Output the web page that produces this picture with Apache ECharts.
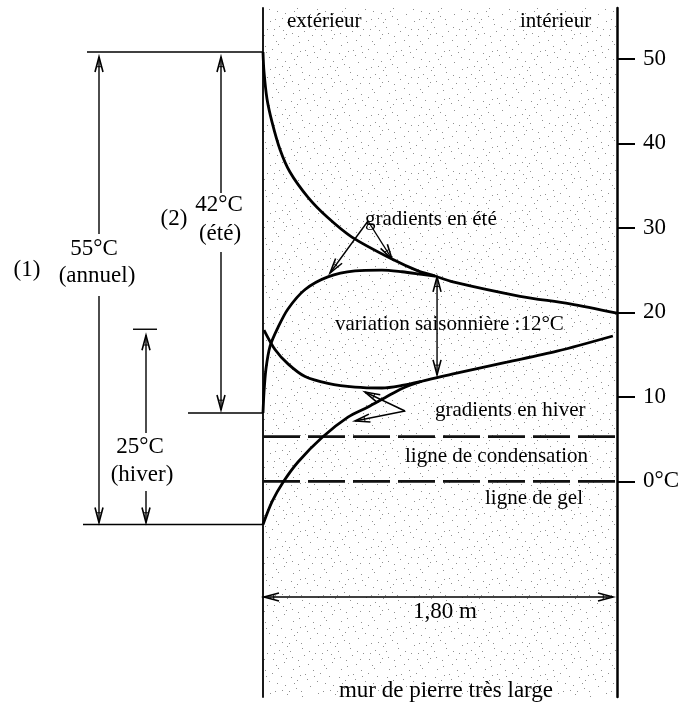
<!DOCTYPE html>
<html><head><meta charset="utf-8">
<script src="https://cdn.jsdelivr.net/npm/echarts@6/dist/echarts.min.js"></script>
<style>html,body{margin:0;padding:0;background:#fff}#c{width:683px;height:704px}</style>
</head><body><div id="c"></div>
<script>
// ---- data (x = depth in wall, m ; y = temperature, °C) ----
const tickValues = [0, 10, 20, 30, 40, 50];
const ete1 = [[0,50.8],[0.005,48.5],[0.02,45.3],[0.046,42.5],[0.086,39.3],[0.137,36.6],[0.229,33.6],[0.325,31.3],[0.452,28.9],[0.656,26.3],[0.788,24.9],[0.874,24.3],[0.966,23.6],[1.307,21.9],[1.561,21.0],[1.8,19.9]];
const ete2 = [[0,8.1],[0.005,10.5],[0.015,13.3],[0.036,16.0],[0.076,18.2],[0.127,20.4],[0.214,22.7],[0.33,24.2],[0.468,24.9],[0.605,25.0],[0.707,24.8],[0.808,24.5],[0.874,24.3]];
const hiver1 = [[0.005,17.9],[0.061,15.6],[0.127,13.9],[0.214,12.4],[0.33,11.6],[0.468,11.15],[0.605,11.05],[0.707,11.35],[0.808,11.85],[0.961,12.7],[1.24,14.1],[1.495,15.4],[1.779,17.2]];
const hiver2 = [[0,-5.1],[0.046,-2.4],[0.102,-0.1],[0.178,2.3],[0.3,5.2],[0.432,7.6],[0.534,8.8],[0.62,9.9],[0.707,11.0],[0.808,11.85]];
const condensationTemp = 5.3;
const gelTemp = 0;
const wallWidth = 1.8;
const annualMax = 50.8, annualMin = -5.1, summerMin = 8.1, winterMax = 18.0;
const seasonalX = 0.885, seasonalTop = 24.2, seasonalBottom = 12.6;

const FONT = '"Liberation Serif", "Times New Roman", serif';
const chart = echarts.init(document.getElementById('c'));

const curve = (d) => ({type:'line', data:d, smooth:0.3, symbol:'none', lineStyle:{color:'#000', width:2.8}, z:5});
const dashLine = (t) => ({type:'line', data:[[0,t],[wallWidth,t]], symbol:'none', lineStyle:{color:'#111', width:2.6, type:[37,8]}, z:4});

chart.setOption({
  animation:false,
  backgroundColor:'#fff',
  grid:{left:263, right:66, top:8, bottom:7},
  xAxis:{type:'value', min:0, max:wallWidth, show:false},
  yAxis:[
    {type:'value', position:'right', min:-25.5, max:56,
     axisLine:{show:true, onZero:false, lineStyle:{color:'#000', width:2.5}},
     axisTick:{show:true, customValues:tickValues, length:18, lineStyle:{color:'#000', width:2}},
     axisLabel:{customValues:tickValues, formatter:(v)=> v===0 ? '0°C' : String(v), margin:26, color:'#000', fontFamily:FONT, fontSize:23},
     splitLine:{show:false}},
    {type:'value', position:'left', min:-25.5, max:56,
     axisLine:{show:true, onZero:false, lineStyle:{color:'#000', width:1.8}},
     axisTick:{show:false}, axisLabel:{show:false}, splitLine:{show:false}}
  ],
  series:[curve(ete1), curve(ete2), curve(hiver1), curve(hiver2), dashLine(condensationTemp), dashLine(gelTemp)]
});

const px = (x, y) => chart.convertToPixel({gridIndex:0}, [x, y]);
const py = (t) => px(0, t)[1];
const X0 = px(0, 0)[0], X1 = px(wallWidth, 0)[0];

// stipple pattern
const pc = document.createElement('canvas'); pc.width = 48; pc.height = 48;
const g = pc.getContext('2d'); g.fillStyle = 'rgba(70,70,70,0.6)';
[[3,5],[17,2],[29,9],[41,4],[8,16],[22,14],[35,19],[45,13],[2,27],[14,24],[27,29],[39,26],[10,36],[20,40],[33,35],[44,38],[5,45],[25,46],[38,44],[16,31],[30,21],[6,11],[43,30],[19,7],[36,41],[12,3],[47,22],[24,35],[1,19],[32,1],
 [9,8],[26,4],[37,11],[13,19],[42,18],[4,33],[21,27],[34,29],[46,34],[11,42]].forEach(p=>g.fillRect(p[0],p[1],1,1));

const els = [];
const TH = 1.4;
function line(x1,y1,x2,y2,w){ els.push({type:'line', z:20, shape:{x1,y1,x2,y2}, style:{stroke:'#000', lineWidth:w||TH}}); }
function head(x1,y1,x2,y2){
  const a = Math.atan2(y2-y1, x2-x1), L = 15, W = 4;
  const bx = x2 - L*Math.cos(a), by = y2 - L*Math.sin(a);
  const nx = -Math.sin(a)*W, ny = Math.cos(a)*W;
  els.push({type:'polyline', z:21, shape:{points:[[bx+nx,by+ny],[x2,y2],[bx-nx,by-ny]]}, style:{stroke:'#000', lineWidth:1.6, fill:null}});
  const mx = x2 - 0.65*L*Math.cos(a), my = y2 - 0.65*L*Math.sin(a);
  els.push({type:'line', z:21, shape:{x1:mx+nx*0.6,y1:my+ny*0.6,x2:mx-nx*0.6,y2:my-ny*0.6}, style:{stroke:'#000', lineWidth:1}});
}
function arrow(x1,y1,x2,y2){ line(x1,y1,x2,y2); head(x1,y1,x2,y2); }
function text(t,x,y,size,align){ els.push({type:'text', z:25, x, y, style:{text:t, fill:'#000', font:size+'px '+FONT, align:align||'left', verticalAlign:'middle'}}); }

const gridTop = px(0, 56)[1], gridBot = px(0, -25.5)[1];
els.push({type:'rect', z:-10, shape:{x:X0, y:gridTop, width:X1-X0, height:gridBot-gridTop}, style:{fill:{image:pc, repeat:'repeat'}}});

// reference horizontals
line(87, py(annualMax), X0, py(annualMax));
line(188, py(summerMin), X0, py(summerMin));
line(83, py(annualMin), X0, py(annualMin));
line(133, py(winterMax), 157, py(winterMax));
// (1) 55°C annuel
arrow(99, 234, 99, py(annualMax)+5);
arrow(99, 296, 99, py(annualMin)-2);
// (2) 42°C été
arrow(221, 193, 221, py(annualMax)+5);
arrow(221, 252, 221, py(summerMin)-3);
// 25°C hiver
arrow(146, 433, 146, py(winterMax)+6);
arrow(146, 491, 146, py(annualMin)-2);
// seasonal variation
const sx = px(seasonalX, 0)[0], sy1 = py(seasonalTop), sy2 = py(seasonalBottom);
line(sx, sy1, sx, sy2); head(sx, sy2, sx, sy1); head(sx, sy1, sx, sy2);
// gradients en été
arrow(368, 221, 330, 273);
arrow(368, 221, 392, 259);
// gradients en hiver
arrow(405, 411, 365, 392);
arrow(405, 411, 355, 421);
// wall width
const wy = 597;
line(X0+1, wy, X1-4, wy); head(X1, wy, X0+1, wy); head(X0, wy, X1-4, wy);

// texts
text('extérieur', 287, 21, 21);
text('intérieur', 520, 21, 21);
text('gradients en été', 365, 219, 21);
text('variation saisonnière :12°C', 335, 324, 21);
text('gradients en hiver', 435, 410, 21);
text('ligne de condensation', 405, 456, 21);
text('ligne de gel', 485, 498, 21);
text('1,80 m', 445, 612, 23, 'center');
text('mur de pierre très large', 446, 691, 23, 'center');
text('(1)', 27, 270, 23, 'center');
text('55°C', 94, 249, 23, 'center');
text('(annuel)', 97, 276, 23, 'center');
text('(2)', 174, 219, 23, 'center');
text('42°C', 219, 205, 23, 'center');
text('(été)', 220, 234, 23, 'center');
text('25°C', 140, 447, 23, 'center');
text('(hiver)', 142, 475, 23, 'center');

chart.setOption({graphic:{elements:els}});
</script></body></html>
